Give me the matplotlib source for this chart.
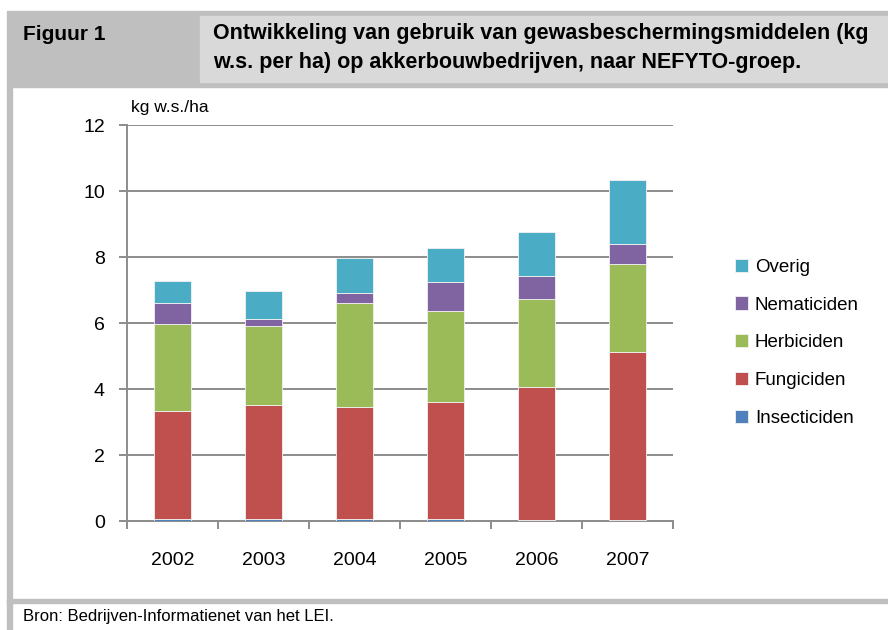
# Figuur 1: gebruik gewasbeschermingsmiddelen per NEFYTO-groep (gestapelde staven)

from matplotlib import pyplot as plt
from matplotlib.patches import Rectangle
import numpy as np

plt.rcParams['font.family'] = ['Liberation Sans', 'DejaVu Sans']

jaren = ['2002', '2003', '2004', '2005', '2006', '2007']

# waarden (kg w.s. per ha)
insecticiden = [0.07, 0.07, 0.07, 0.07, 0.03, 0.03]
fungiciden = [3.26, 3.44, 3.38, 3.53, 4.02, 5.08]
herbiciden = [2.64, 2.40, 3.17, 2.76, 2.68, 2.69]
nematiciden = [0.65, 0.22, 0.30, 0.89, 0.69, 0.59]
overig = [0.64, 0.84, 1.04, 1.02, 1.34, 1.94]

reeksen = [
  ('Insecticiden', insecticiden, '#4F81BD'),
  ('Fungiciden', fungiciden, '#C0504D'),
  ('Herbiciden', herbiciden, '#9BBB59'),
  ('Nematiciden', nematiciden, '#8064A2'),
  ('Overig', overig, '#4BACC6'),
]

W, H = 888, 630
fig = plt.figure(figsize=(W / 100, H / 100), dpi=100)

def box(x0, y0, x1, y1, color):
  # rechthoek in pixels (vanaf linksboven)
  fig.patches.append(Rectangle((x0 / W, 1 - y1 / H), (x1 - x0) / W, (y1 - y0) / H,
                               transform=fig.transFigure, color=color, zorder=0))

# kader en kop
box(7, 11, 888, 87, '#bfbfbf')
box(200, 16, 888, 82, '#d9d9d9')
box(7, 87, 12, 630, '#bfbfbf')
box(7, 599, 888, 603, '#bfbfbf')

fig.text(23 / W, 1 - 34 / H, 'Figuur 1', fontsize=15, fontweight='bold', va='center', ha='left')
fig.text(213 / W, 1 - 48 / H,
         'Ontwikkeling van gebruik van gewasbeschermingsmiddelen (kg\n'
         'w.s. per ha) op akkerbouwbedrijven, naar NEFYTO-groep.',
         fontsize=15.5, fontweight='bold', va='center', ha='left', linespacing=1.5)
fig.text(23 / W, 1 - 616 / H, 'Bron: Bedrijven-Informatienet van het LEI.',
         fontsize=12, va='center', ha='left')

ax = fig.add_axes([127 / W, 1 - 521 / H, (673 - 127) / W, (521 - 125) / H])

x = np.arange(len(jaren))
bottom = np.zeros(len(jaren))
for naam, waarden, kleur in reeksen:
  ax.bar(x, waarden, width=0.4, bottom=bottom, color=kleur, label=naam,
         edgecolor='#f2f2f2', linewidth=0.6, zorder=3)
  bottom += np.array(waarden)

ax.set_xlim(-0.5, len(jaren) - 0.5)
ax.set_ylim(0, 12)
ax.set_yticks(range(0, 13, 2))
ax.yaxis.grid(True, color='#8c8c8c', linewidth=1.4, zorder=0)
ax.set_axisbelow(True)

ax.set_xticks(x)
ax.set_xticklabels(jaren)
ax.set_xticks(np.arange(-0.5, len(jaren)), minor=True)
ax.tick_params(axis='x', which='major', length=0, pad=22, labelsize=14)
ax.tick_params(axis='x', which='minor', length=6, width=1.4, color='#8c8c8c', direction='out')
ax.tick_params(axis='y', length=6, width=1.4, color='#8c8c8c', pad=10, labelsize=14)

for kant in ['top', 'right']:
  ax.spines[kant].set_visible(False)
for kant in ['left', 'bottom']:
  ax.spines[kant].set_color('#8c8c8c')
  ax.spines[kant].set_linewidth(1.4)

ax.text(0.008, 1.045, 'kg w.s./ha', transform=ax.transAxes, fontsize=12.5, va='center', ha='left')

h, l = ax.get_legend_handles_labels()
ax.legend(h[::-1], l[::-1], loc='center left', bbox_to_anchor=(1.10, 0.45), frameon=False,
          fontsize=13.5, handlelength=0.7, handleheight=0.7, handletextpad=0.35,
          labelspacing=1.1, borderaxespad=0)

plt.savefig('out.png', dpi=100)
